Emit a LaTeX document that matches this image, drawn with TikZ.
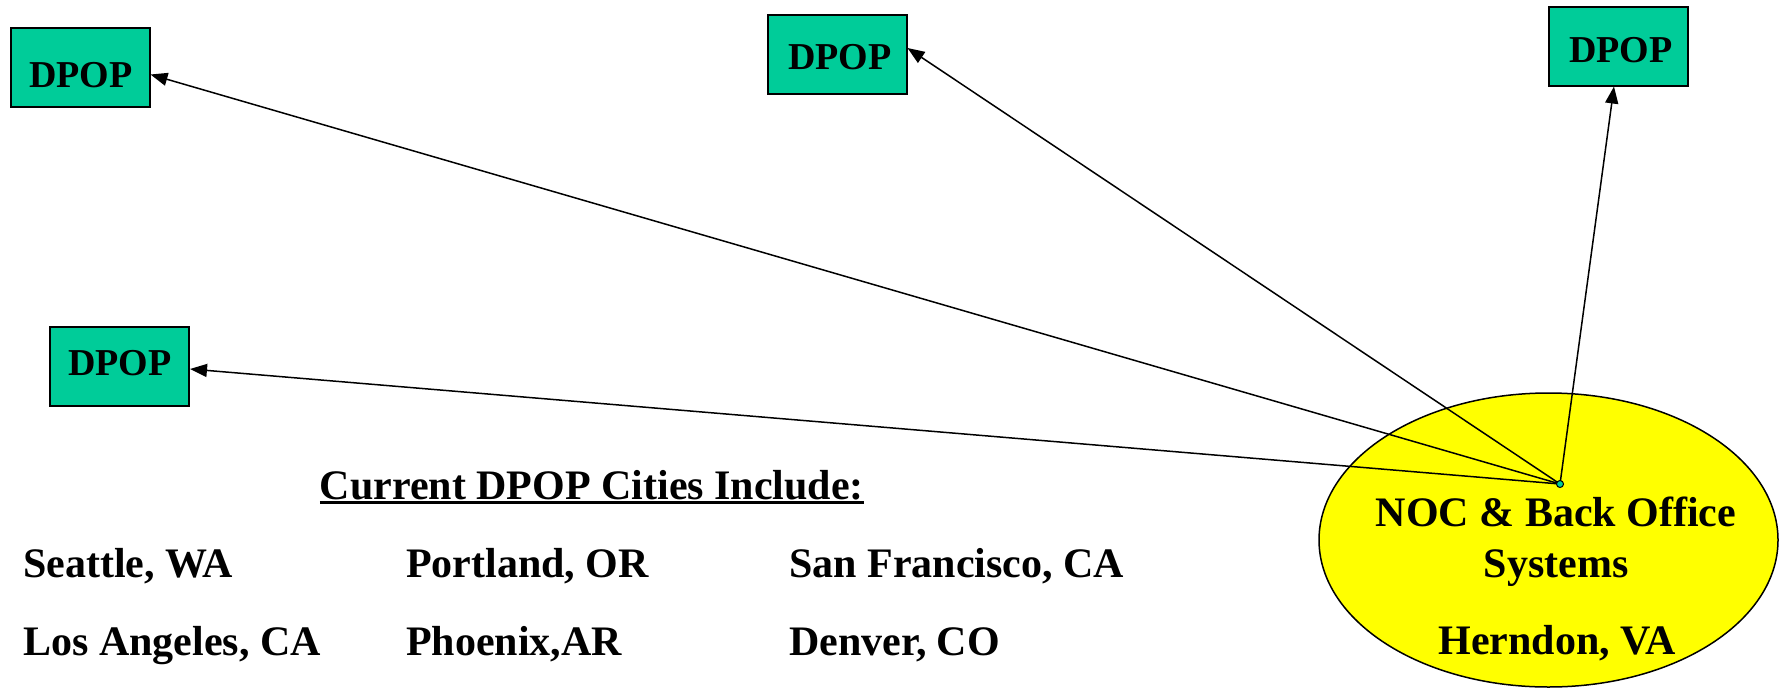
\documentclass[tikz,border=0pt]{standalone}
\usepackage{fontspec}
\setmainfont{Liberation Serif}
\usetikzlibrary{shapes.geometric,arrows.meta}
\definecolor{dpopgreen}{RGB}{0,204,153}
\definecolor{nocyellow}{RGB}{255,255,0}
\tikzset{
  dpopbox/.style={draw=black, line width=2pt, fill=dpopgreen, inner sep=0pt,
    minimum width=139pt, minimum height=79pt},
  dpoptxt/.style={inner sep=0pt, anchor=center, font=\fontsize{38}{42}\selectfont\bfseries},
  arr/.style={draw=black, line width=1.5pt, -{Triangle[length=17pt,width=13pt]}},
  bigtxt/.style={inner sep=0pt, anchor=base, font=\fontsize{42}{48}\selectfont\bfseries},
  citytxt/.style={inner sep=0pt, anchor=base west, font=\fontsize{42}{48}\selectfont\bfseries}
}
\begin{document}
\begin{tikzpicture}[x=1pt,y=-1pt]
\useasboundingbox (0,0) rectangle (1782,691);
% ellipse
\node[ellipse, draw=black, line width=1.5pt, fill=nocyellow, minimum width=459pt, minimum height=294pt, inner sep=0pt] (noc) at (1548.5,540) {};
\node[bigtxt] (noc1) at (1556,526) {NOC \& Back Office};
\node[bigtxt] (noc2) at (1556,577) {Systems};
\node[bigtxt] (noc3) at (1557,654) {Herndon, VA};
% DPOP boxes
\node[dpopbox] (d1) at (80,67.5) {};
\node[dpopbox] (d2) at (837,54) {};
\node[dpopbox] (d3) at (1618,46) {};
\node[dpopbox] (d4) at (119.5,366) {};
\node[dpoptxt] (t1) at (81,75) {DPOP};
\node[dpoptxt] (t2) at (840,57) {DPOP};
\node[dpoptxt] (t3) at (1621,50) {DPOP};
\node[dpoptxt] (t4) at (120,363) {DPOP};
% hub
\coordinate (hub) at (1560,484);
\draw[arr] (hub) -- ([yshift=-7pt]d1.east);
\draw[arr] (hub) -- ([yshift=6pt]d2.east);
\draw[arr] (hub) -- ([xshift=-4pt]d3.south);
\draw[arr] (hub) -- ([yshift=-3pt]d4.east);
\node[circle, draw=black, line width=1pt, fill=dpopgreen, minimum size=7pt, inner sep=0pt] (hubdot) at (hub) {};
% cities
\node[bigtxt] (cur) at (592,499) {Current DPOP Cities Include:};
\draw[line width=3pt] ([yshift=-3.5pt]cur.base west) -- ([yshift=-3.5pt]cur.base east);
\node[citytxt] (c1) at (23,577) {Seattle, WA};
\node[citytxt] (c2) at (406,577) {Portland, OR};
\node[citytxt] (c3) at (789,577) {San Francisco, CA};
\node[citytxt] (c4) at (23,655) {Los Angeles, CA};
\node[citytxt] (c5) at (406,655) {Phoenix,AR};
\node[citytxt] (c6) at (789,655) {Denver, CO};
\end{tikzpicture}
\end{document}
